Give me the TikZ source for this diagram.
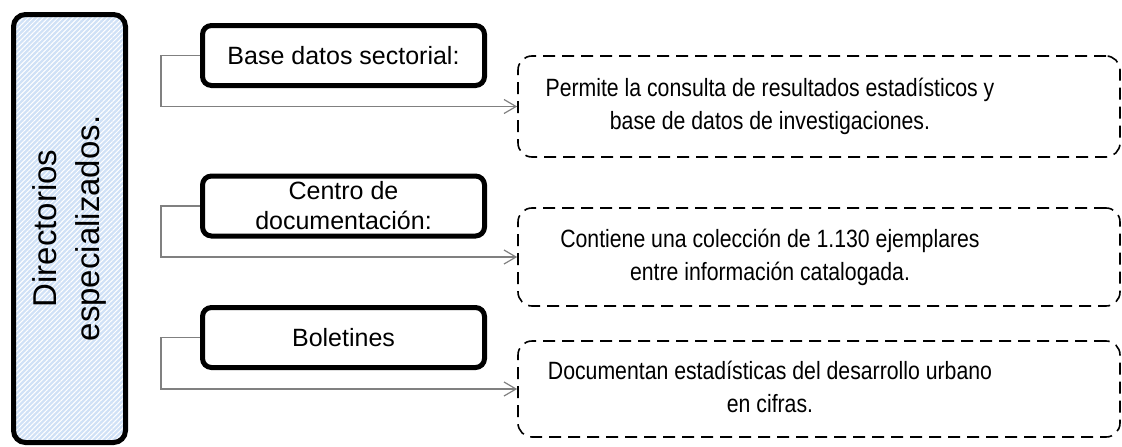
\documentclass[tikz,border=0pt]{standalone}
\usepackage{fontspec}
\setmainfont{Liberation Sans}
\newfontfamily\narrowsans[FakeStretch=0.85]{Liberation Sans}
\usetikzlibrary{arrows.meta, patterns.meta}
\definecolor{hatchblue}{RGB}{208,225,246}
\definecolor{linkgray}{RGB}{128,128,128}
\tikzstyle{title} = [rectangle, rounded corners=12pt,
minimum width=112pt,
minimum height=428pt,
inner sep=0pt,
line width=5pt,
draw=black,
preaction={fill=hatchblue},
pattern={Lines[angle=45,distance=3.5pt,line width=1pt]},
pattern color=white]
\tikzstyle{item} = [rectangle, rounded corners=9pt,
minimum width=282pt,
minimum height=60pt,
inner sep=0pt,
text centered,
align=center,
line width=5pt,
draw=black,
fill=white,
font=\fontsize{25}{30}\selectfont]
\tikzstyle{detail} = [rectangle, rounded corners=14pt,
minimum width=602pt,
inner sep=0pt,
line width=1.6pt,
dash pattern=on 12pt off 7pt,
draw=black,
font=\narrowsans\fontsize{25}{33}\selectfont]
\tikzstyle{link} = [draw=linkgray, line width=1.2pt, -{Straight Barb[length=12pt,width=14pt]}]
% text in the dashed boxes sits left of centre
\newcommand{\detailtext}[1]{\begin{tabular}{@{}c@{}}#1\end{tabular}\makebox[98pt]{}}

\begin{document}
\begin{tikzpicture}[x=1pt, y=-1pt]
    \useasboundingbox (0,0) rectangle (1122,447);
    \node (dir) [title] at (69.5,228.5) {\rotatebox{90}{\fontsize{33}{43}\selectfont\begin{tabular}{@{}c@{}}Directorios\\especializados.\end{tabular}}};
    \node (base) [item] at (343.5,55.5) {Base datos sectorial:};
    \node (centro) [item] at (343.5,206) {Centro de\\documentación:};
    \node (bol) [item] at (343.5,337.5) {Boletines};
    \node (consulta) [detail, minimum height=101pt] at (819,106.5) {\detailtext{Permite la consulta de resultados estadísticos y\\base de datos de investigaciones.}};
    \node (coleccion) [detail, minimum height=98pt] at (819,257) {\detailtext{Contiene una colección de 1.130 ejemplares\\entre información catalogada.}};
    \node (cifras) [detail, minimum height=96pt] at (819,389) {\detailtext{Documentan estadísticas del desarrollo urbano\\en cifras.}};

    \draw [link] (base.west) -- ++(-39,0) |- (consulta.west);
    \draw [link] (centro.west) -- ++(-39,0) |- (coleccion.west);
    \draw [link] (bol.west) -- ++(-39,0) |- (cifras.west);
\end{tikzpicture}
\end{document}
